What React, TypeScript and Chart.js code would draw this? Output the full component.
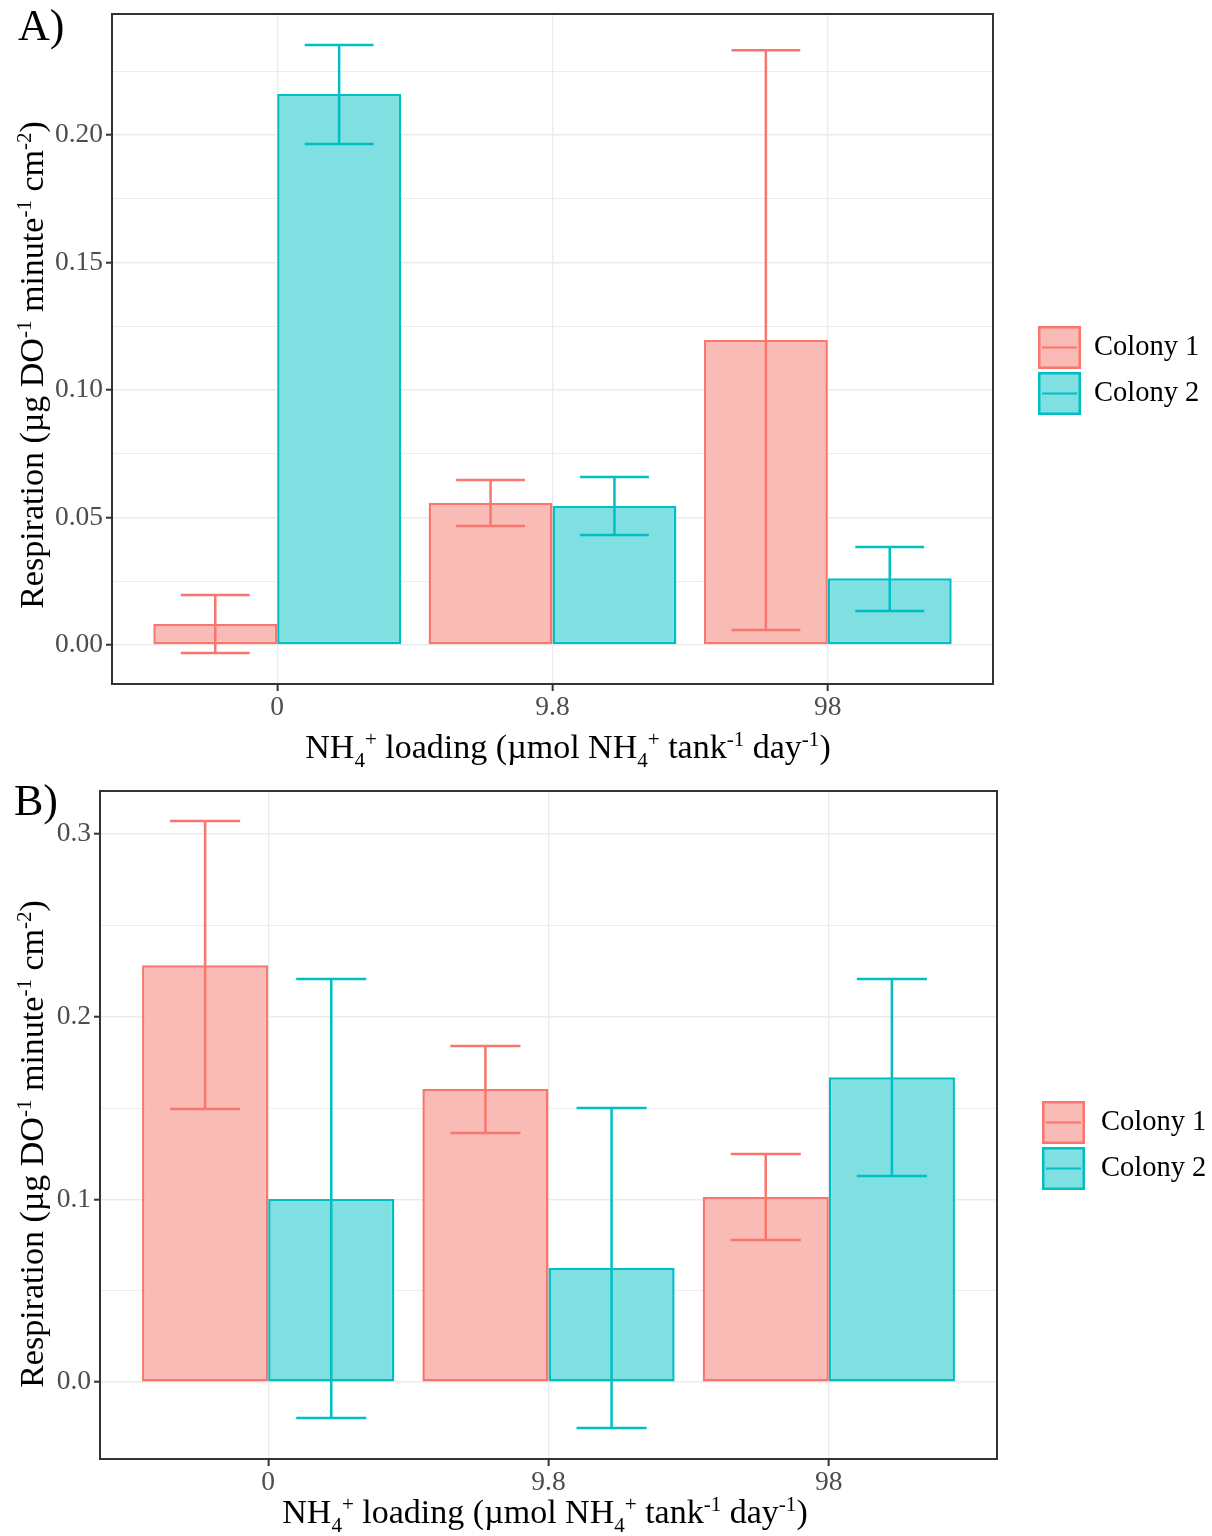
import React, { useEffect, useRef } from 'react';
import { Chart, registerables } from 'chart.js';

Chart.register(...registerables);

// ---- data ----
const loadings = ['0', '9.8', '98'];
const colonyNames = ['Colony 1', 'Colony 2'];

// Panel A: mean respiration and error-bar limits per loading level
const respA_colony1 = [0.0082, 0.0557, 0.1196];
const respA_colony1_low = [-0.0031, 0.0467, 0.0059];
const respA_colony1_high = [0.0196, 0.0647, 0.2333];
const respA_colony2 = [0.2161, 0.0545, 0.0262];
const respA_colony2_low = [0.1965, 0.0431, 0.0133];
const respA_colony2_high = [0.2353, 0.0659, 0.0384];
const yTicksA = [0, 0.05, 0.1, 0.15, 0.2];

// Panel B
const respB_colony1 = [0.2282, 0.1604, 0.1013];
const respB_colony1_low = [0.1494, 0.1363, 0.0777];
const respB_colony1_high = [0.3071, 0.1839, 0.1248];
const respB_colony2 = [0.1002, 0.0624, 0.1669];
const respB_colony2_low = [-0.0197, -0.0252, 0.1128];
const respB_colony2_high = [0.2206, 0.1500, 0.2206];
const yTicksB = [0, 0.1, 0.2, 0.3];

// ---- styling ----
const FONT = "'Liberation Serif', 'Times New Roman', serif";
const lineColors = ['#F8766D', '#00BFC4'];
const fillColors = ['#F9BBB6', '#7FDFE1'];
const GRID = '#EBEBEB';
const FRAME = '#333333';

type Seg = { t: string; s?: 'sup' | 'sub' };

const yTitleSegs: Seg[] = [
  { t: 'Respiration (µg DO' }, { t: '-1', s: 'sup' },
  { t: ' minute' }, { t: '-1', s: 'sup' },
  { t: ' cm' }, { t: '-2', s: 'sup' }, { t: ')' },
];
const xTitleSegs: Seg[] = [
  { t: 'NH' }, { t: '4', s: 'sub' }, { t: '+', s: 'sup' },
  { t: ' loading (µmol NH' }, { t: '4', s: 'sub' }, { t: '+', s: 'sup' },
  { t: ' tank' }, { t: '-1', s: 'sup' }, { t: ' day' }, { t: '-1', s: 'sup' }, { t: ')' },
];

function drawRich(ctx: CanvasRenderingContext2D, segs: Seg[], cx: number, y: number, size: number) {
  const small = size * 0.62;
  const widths = segs.map((sg) => {
    ctx.font = `${sg.s ? small : size}px ${FONT}`;
    return ctx.measureText(sg.t).width;
  });
  const total = widths.reduce((a, b) => a + b, 0);
  let x = cx - total / 2;
  ctx.textAlign = 'left';
  ctx.textBaseline = 'alphabetic';
  segs.forEach((sg, i) => {
    ctx.font = `${sg.s ? small : size}px ${FONT}`;
    const dy = sg.s === 'sup' ? -size * 0.36 : sg.s === 'sub' ? size * 0.26 : 0;
    ctx.fillText(sg.t, x, y + dy);
    x += widths[i];
  });
}

interface PanelSpec {
  tag: string;
  top: number;
  height: number;
  area: { left: number; top: number; right: number; bottom: number };
  yMin: number;
  yMax: number;
  yMajors: number[];
  decimals: number;
  means: number[][];
  lows: number[][];
  highs: number[][];
  yTitle: { x: number; y: number };
  xTitle: { x: number; y: number };
  legend: { x: number; y: number; textX: number };
  tagPos: { x: number; y: number };
}

const panels: PanelSpec[] = [
  {
    tag: 'A)',
    top: 0,
    height: 775,
    area: { left: 112, top: 14, right: 993, bottom: 684 },
    yMin: -0.0153,
    yMax: 0.2475,
    yMajors: yTicksA,
    decimals: 2,
    means: [respA_colony1, respA_colony2],
    lows: [respA_colony1_low, respA_colony2_low],
    highs: [respA_colony1_high, respA_colony2_high],
    yTitle: { x: 43, y: 365 },
    xTitle: { x: 568, y: 758 },
    legend: { x: 1038, y: 326, textX: 1094 },
    tagPos: { x: 18, y: 40 },
  },
  {
    tag: 'B)',
    top: 775,
    height: 761,
    area: { left: 100, top: 16, right: 997, bottom: 684 },
    yMin: -0.0421,
    yMax: 0.3235,
    yMajors: yTicksB,
    decimals: 1,
    means: [respB_colony1, respB_colony2],
    lows: [respB_colony1_low, respB_colony2_low],
    highs: [respB_colony1_high, respB_colony2_high],
    yTitle: { x: 43, y: 369 },
    xTitle: { x: 545, y: 748 },
    legend: { x: 1042, y: 326, textX: 1101 },
    tagPos: { x: 14, y: 40 },
  },
];

function Panel({ spec }: { spec: PanelSpec }) {
  const ref = useRef<HTMLCanvasElement | null>(null);

  useEffect(() => {
    const canvas = ref.current;
    if (!canvas) return;
    const W = 1212;
    const step = spec.yMajors[1] - spec.yMajors[0];
    const isMajor = (v: number) => Math.abs(v / step - Math.round(v / step)) < 1e-6;
    const yVals: number[] = [];
    for (let k = Math.floor(spec.yMin / (step / 2)); k * (step / 2) <= spec.yMax + 1e-9; k++) {
      const v = +(k * (step / 2)).toFixed(6);
      if (v >= spec.yMin && v <= spec.yMax) yVals.push(v);
    }

    const decor = {
      id: 'panelDecor',
      afterDatasetsDraw(chart: any) {
        const ctx: CanvasRenderingContext2D = chart.ctx;
        const xs = chart.scales.x;
        const ys = chart.scales.y;
        const half = xs.getPixelForValue(0.125) - xs.getPixelForValue(0);
        ctx.save();
        spec.means.forEach((_, di) => {
          const meta = chart.getDatasetMeta(di);
          ctx.strokeStyle = lineColors[di];
          ctx.lineWidth = 2.5;
          meta.data.forEach((bar: any, i: number) => {
            const yh = ys.getPixelForValue(spec.highs[di][i]);
            const yl = ys.getPixelForValue(spec.lows[di][i]);
            const x = bar.x;
            ctx.beginPath();
            ctx.moveTo(x, yh); ctx.lineTo(x, yl);
            ctx.moveTo(x - half, yh); ctx.lineTo(x + half, yh);
            ctx.moveTo(x - half, yl); ctx.lineTo(x + half, yl);
            ctx.stroke();
          });
        });
        ctx.restore();
      },
      afterDraw(chart: any) {
        const ctx: CanvasRenderingContext2D = chart.ctx;
        const a = chart.chartArea;
        ctx.save();
        // panel frame
        ctx.strokeStyle = FRAME;
        ctx.lineWidth = 2;
        ctx.strokeRect(a.left, a.top, a.right - a.left, a.bottom - a.top);

        ctx.fillStyle = '#000000';
        // x title
        drawRich(ctx, xTitleSegs, spec.xTitle.x, spec.xTitle.y, 34);
        // y title (rotated)
        ctx.save();
        ctx.translate(spec.yTitle.x, spec.yTitle.y);
        ctx.rotate(-Math.PI / 2);
        drawRich(ctx, yTitleSegs, 0, 0, 34);
        ctx.restore();

        // panel tag
        ctx.font = `44px ${FONT}`;
        ctx.textAlign = 'left';
        ctx.textBaseline = 'alphabetic';
        ctx.fillText(spec.tag, spec.tagPos.x, spec.tagPos.y);

        // legend
        const key = 43;
        colonyNames.forEach((name, i) => {
          const kx = spec.legend.x;
          const ky = spec.legend.y + i * (key + 3);
          ctx.fillStyle = fillColors[i];
          ctx.fillRect(kx, ky, key, key);
          ctx.strokeStyle = lineColors[i];
          ctx.lineWidth = 2.5;
          ctx.strokeRect(kx + 1.25, ky + 1.25, key - 2.5, key - 2.5);
          ctx.lineWidth = 2.2;
          ctx.beginPath();
          ctx.moveTo(kx + 4, ky + key / 2);
          ctx.lineTo(kx + key - 4, ky + key / 2);
          ctx.stroke();
          ctx.fillStyle = '#000000';
          ctx.font = `28.5px ${FONT}`;
          ctx.textBaseline = 'middle';
          ctx.fillText(name, spec.legend.textX, ky + key / 2);
        });
        ctx.restore();
      },
    };

    const chart = new Chart(canvas, {
      type: 'bar',
      data: {
        datasets: colonyNames.map((name, di) => ({
          label: name,
          data: spec.means[di].map((v, i) => ({ x: i, y: v })),
          backgroundColor: fillColors[di],
          borderColor: lineColors[di],
          borderWidth: 2.5,
          borderSkipped: false,
          categoryPercentage: 0.9,
          barPercentage: 1.0,
        })),
      },
      options: {
        responsive: false,
        animation: false,
        events: [],
        layout: {
          padding: { left: 0, top: spec.area.top, right: W - spec.area.right, bottom: 0 },
        },
        plugins: { legend: { display: false }, title: { display: false }, tooltip: { enabled: false } },
        scales: {
          x: {
            type: 'linear',
            min: -0.6,
            max: 2.6,
            offset: false,
            afterBuildTicks: (s: any) => { s.ticks = loadings.map((_, i) => ({ value: i })); },
            afterFit: (s: any) => {
              s.height = spec.height - spec.area.bottom;
              s.paddingLeft = 0; s.paddingRight = 0; s.paddingTop = 0; s.paddingBottom = 0;
            },
            grid: { color: GRID, lineWidth: 1.3, offset: false, drawTicks: true, tickLength: 7, tickColor: FRAME, tickWidth: 2 },
            border: { display: false },
            ticks: {
              autoSkip: false,
              maxRotation: 0,
              padding: 0,
              color: '#4D4D4D',
              font: { family: FONT, size: 27.5 },
              callback: (_v: any, i: number) => loadings[i],
            },
          },
          y: {
            type: 'linear',
            min: spec.yMin,
            max: spec.yMax,
            afterBuildTicks: (s: any) => { s.ticks = yVals.map((v) => ({ value: v })); },
            afterFit: (s: any) => {
              s.width = spec.area.left;
              s.paddingLeft = 0; s.paddingRight = 0; s.paddingTop = 0; s.paddingBottom = 0;
            },
            grid: {
              color: GRID,
              lineWidth: (c: any) => (c.tick && isMajor(c.tick.value) ? 1.4 : 0.9),
              drawTicks: true,
              tickLength: 6,
              tickColor: (c: any) => (c.tick && isMajor(c.tick.value) ? FRAME : 'rgba(0,0,0,0)'),
              tickWidth: 2,
            },
            border: { display: false },
            ticks: {
              autoSkip: false,
              padding: 3,
              color: '#4D4D4D',
              font: { family: FONT, size: 27.5 },
              callback: (v: any) => (isMajor(Number(v)) ? Number(v).toFixed(spec.decimals) : ''),
            },
          },
        },
      } as any,
      plugins: [decor],
    });
    return () => chart.destroy();
  }, [spec]);

  return (
    <canvas
      ref={ref}
      width={1212}
      height={spec.height}
      style={{ position: 'absolute', left: 0, top: spec.top, width: 1212, height: spec.height }}
    />
  );
}

export default function App() {
  return (
    <div style={{ position: 'absolute', left: 0, top: 0, width: 1212, height: 1536, background: '#ffffff' }}>
      {panels.map((p) => (
        <Panel key={p.tag} spec={p} />
      ))}
    </div>
  );
}
